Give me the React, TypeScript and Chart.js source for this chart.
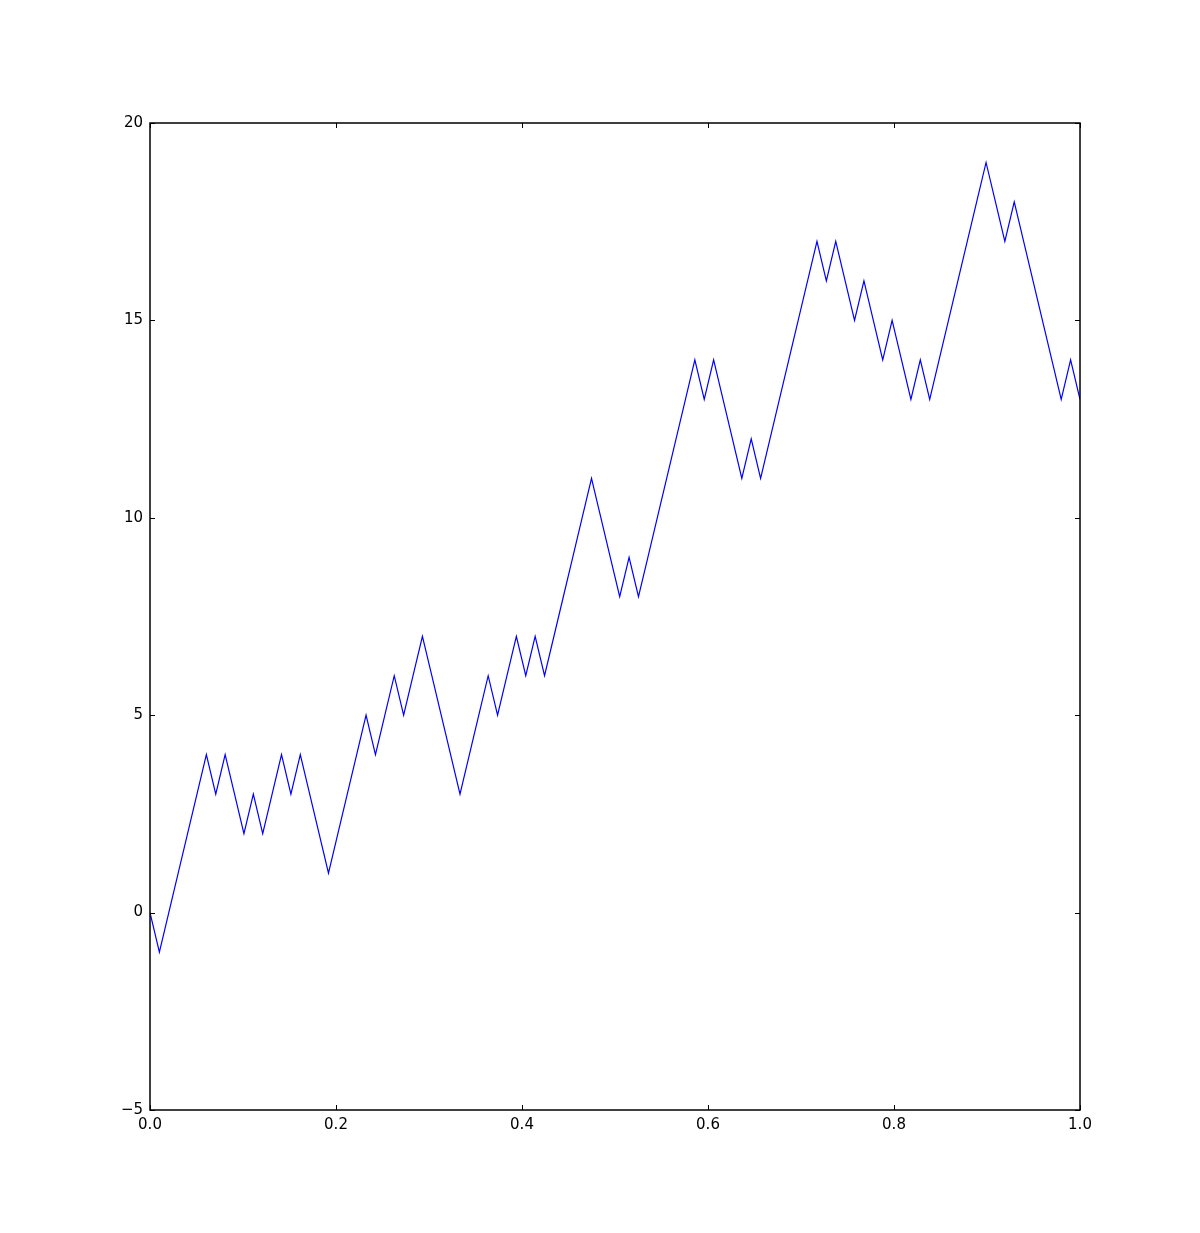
import { useEffect, useRef } from "react"
import { Chart, registerables } from "chart.js"

Chart.register(...registerables)

// random walk values, one per step
const walkValues = [
  0, -1, 0, 1, 2, 3, 4, 3, 4, 3,
  2, 3, 2, 3, 4, 3, 4, 3, 2, 1,
  2, 3, 4, 5, 4, 5, 6, 5, 6, 7,
  6, 5, 4, 3, 4, 5, 6, 5, 6, 7,
  6, 7, 6, 7, 8, 9, 10, 11, 10, 9,
  8, 9, 8, 9, 10, 11, 12, 13, 14, 13,
  14, 13, 12, 11, 12, 11, 12, 13, 14, 15,
  16, 17, 16, 17, 16, 15, 16, 15, 14, 15,
  14, 13, 14, 13, 14, 15, 16, 17, 18, 19,
  18, 17, 18, 17, 16, 15, 14, 13, 14, 13,
]

const xTicks = [0, 0.2, 0.4, 0.6, 0.8, 1.0]
const yTicks = [-5, 0, 5, 10, 15, 20]

// frame + inward tick marks like matplotlib classic
const framePlugin = {
  id: "frame",
  afterDraw(chart: Chart) {
    const { ctx, chartArea } = chart
    const { left, right, top, bottom } = chartArea
    const xs = chart.scales.x
    const ys = chart.scales.y
    const len = 5
    ctx.save()
    ctx.strokeStyle = "#000"
    ctx.lineWidth = 1
    ctx.beginPath()
    xTicks.forEach((t) => {
      const px = Math.round(xs.getPixelForValue(t)) + 0.5
      ctx.moveTo(px, bottom)
      ctx.lineTo(px, bottom - len)
      ctx.moveTo(px, top)
      ctx.lineTo(px, top + len)
    })
    yTicks.forEach((t) => {
      const py = Math.round(ys.getPixelForValue(t)) + 0.5
      ctx.moveTo(left, py)
      ctx.lineTo(left + len, py)
      ctx.moveTo(right, py)
      ctx.lineTo(right - len, py)
    })
    ctx.stroke()
    ctx.lineWidth = 1.5
    ctx.strokeRect(left, top, right - left, bottom - top)
    ctx.restore()
  },
}

export default function App() {
  const canvasRef = useRef<HTMLCanvasElement | null>(null)

  useEffect(() => {
    if (!canvasRef.current) return
    const n = walkValues.length
    const points = walkValues.map((v, i) => ({ x: i / (n - 1), y: v }))

    const chart = new Chart(canvasRef.current, {
      type: "line",
      data: {
        datasets: [
          {
            data: points,
            borderColor: "#0000ff",
            borderWidth: 1.2,
            pointRadius: 0,
            tension: 0,
            fill: false,
          },
        ],
      },
      options: {
        responsive: false,
        animation: false,
        layout: { padding: { top: 123, right: 120, left: 0, bottom: 0 } },
        plugins: {
          legend: { display: false },
          tooltip: { enabled: false },
        },
        scales: {
          x: {
            type: "linear",
            min: 0,
            max: 1,
            afterFit: (s: any) => {
              s.height = 123
            },
            afterBuildTicks: (s: any) => {
              s.ticks = xTicks.map((v) => ({ value: v }))
            },
            grid: { display: false, drawTicks: false },
            border: { display: false },
            ticks: {
              padding: 6,
              color: "#000",
              font: { family: "DejaVu Sans", size: 15 },
              maxRotation: 0,
              callback: (v: any) => Number(v).toFixed(1),
            },
          },
          y: {
            type: "linear",
            min: -5,
            max: 20,
            afterFit: (s: any) => {
              s.width = 150
            },
            afterBuildTicks: (s: any) => {
              s.ticks = yTicks.map((v) => ({ value: v }))
            },
            grid: { display: false, drawTicks: false },
            border: { display: false },
            ticks: {
              padding: 7,
              color: "#000",
              font: { family: "DejaVu Sans", size: 15 },
              callback: (v: any) => (Number(v) < 0 ? "\u2212" + Math.abs(Number(v)) : String(v)),
            },
          },
        },
      },
      plugins: [framePlugin],
    })

    return () => {
      chart.destroy()
    }
  }, [])

  return (
    <div style={{ position: "absolute", left: 0, top: 0, width: 1200, height: 1233, background: "#fff" }}>
      <canvas ref={canvasRef} width={1200} height={1233} style={{ width: 1200, height: 1233 }} />
    </div>
  )
}
